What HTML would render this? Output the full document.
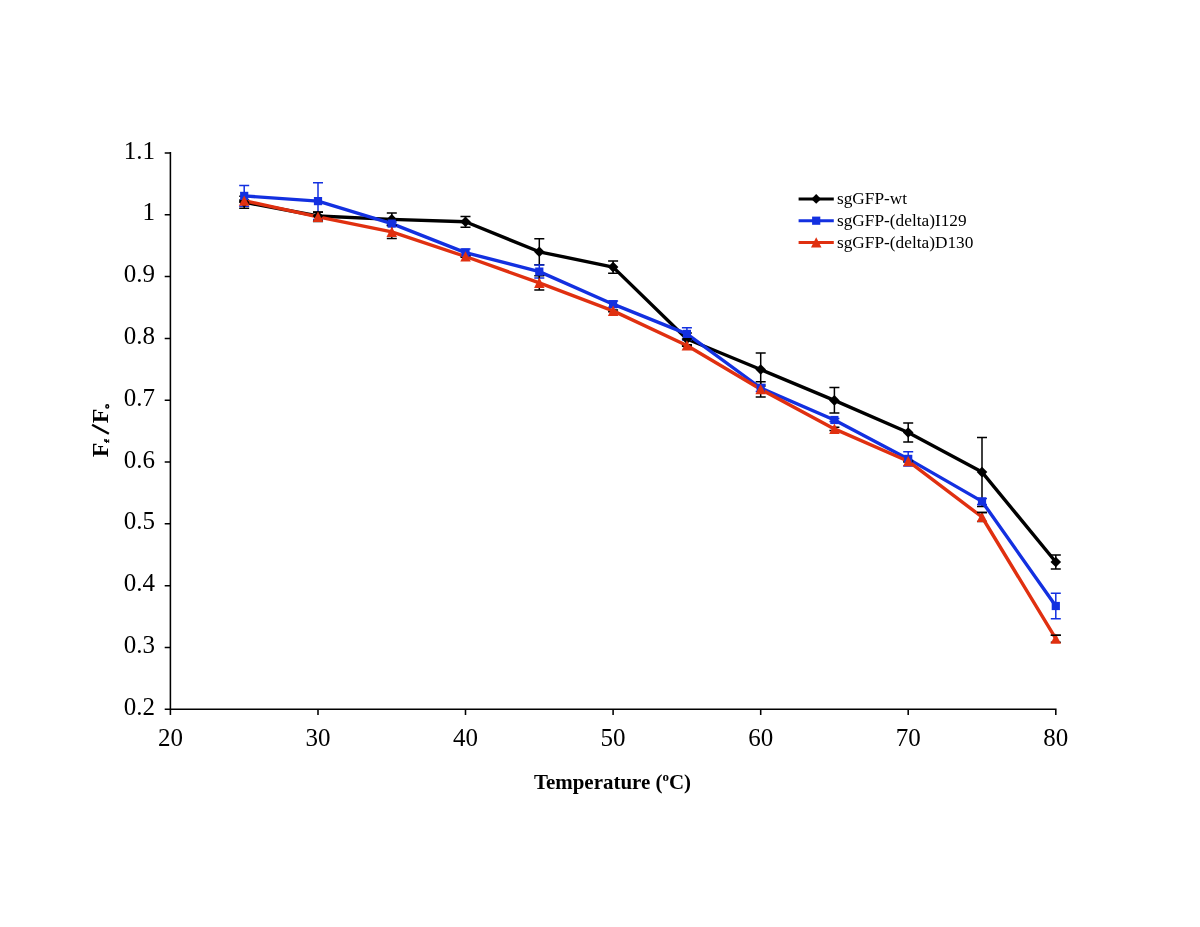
<!DOCTYPE html>
<html><head><meta charset="utf-8"><title>chart</title>
<style>
html,body{margin:0;padding:0;background:#fff;}
body{width:1200px;height:927px;overflow:hidden;font-family:"Liberation Serif",serif;}
svg{display:block;will-change:transform}
text{font-family:"Liberation Serif",serif;fill:#000}
.tk{font-size:25px}
.lg{font-size:17.3px}
.xl{font-size:20.95px;font-weight:bold}
.deg{font-size:13px}
.yl text{font-size:24px;font-weight:bold}
.yl text.sub{font-size:6.5px}
.yl text.sub2{font-size:7.6px}
</style></head>
<body>
<svg width="1200" height="927" viewBox="0 0 1200 927">
<rect width="1200" height="927" fill="#fff"/>
<path d="M170.4 152.0V714.9M164.7 709.3H1056.6M164.7 709.3H170.4M164.7 647.5H170.4M164.7 585.7H170.4M164.7 523.8H170.4M164.7 462.0H170.4M164.7 400.2H170.4M164.7 338.4H170.4M164.7 276.5H170.4M164.7 214.7H170.4M164.7 152.9H170.4M170.4 709.3V714.9M318.0 709.3V714.9M465.5 709.3V714.9M613.1 709.3V714.9M760.7 709.3V714.9M908.2 709.3V714.9M1055.8 709.3V714.9" stroke="#000" stroke-width="1.55" fill="none"/>
<text x="155" y="714.9" text-anchor="end" class="tk">0.2</text>
<text x="155" y="653.1" text-anchor="end" class="tk">0.3</text>
<text x="155" y="591.3" text-anchor="end" class="tk">0.4</text>
<text x="155" y="529.4" text-anchor="end" class="tk">0.5</text>
<text x="155" y="467.6" text-anchor="end" class="tk">0.6</text>
<text x="155" y="405.8" text-anchor="end" class="tk">0.7</text>
<text x="155" y="344.0" text-anchor="end" class="tk">0.8</text>
<text x="155" y="282.1" text-anchor="end" class="tk">0.9</text>
<text x="155" y="220.3" text-anchor="end" class="tk">1</text>
<text x="155" y="158.5" text-anchor="end" class="tk">1.1</text>
<text x="170.4" y="745.5" text-anchor="middle" class="tk">20</text>
<text x="318.0" y="745.5" text-anchor="middle" class="tk">30</text>
<text x="465.5" y="745.5" text-anchor="middle" class="tk">40</text>
<text x="613.1" y="745.5" text-anchor="middle" class="tk">50</text>
<text x="760.7" y="745.5" text-anchor="middle" class="tk">60</text>
<text x="908.2" y="745.5" text-anchor="middle" class="tk">70</text>
<text x="1055.8" y="745.5" text-anchor="middle" class="tk">80</text>
<path d="M244.2 196.2V208.2M239.2 196.2h10M239.2 208.2h10M318.0 211.9V220.1M313.0 211.9h10M313.0 220.1h10M391.8 213.1V225.7M386.8 213.1h10M386.8 225.7h10M465.5 216.4V227.2M460.5 216.4h10M460.5 227.2h10M539.3 238.8V264.8M534.3 238.8h10M534.3 264.8h10M613.1 261.0V273.3M608.1 261.0h10M608.1 273.3h10M686.9 333.0V345.0M681.9 333.0h10M681.9 345.0h10M760.7 353.0V386.0M755.7 353.0h10M755.7 386.0h10M834.4 387.6V413.1M829.4 387.6h10M829.4 413.1h10M908.2 423.1V441.9M903.2 423.1h10M903.2 441.9h10M982.0 437.6V506.6M977.0 437.6h10M977.0 506.6h10M1055.8 554.9V569.1M1050.8 554.9h10M1050.8 569.1h10" stroke="#000" stroke-width="1.5" fill="none"/>
<polyline points="244.2,202.2 318.0,216.0 391.8,219.4 465.5,221.8 539.3,251.8 613.1,267.1 686.9,339.0 760.7,369.5 834.4,400.4 908.2,432.5 982.0,472.1 1055.8,562.0" fill="none" stroke="#000" stroke-width="3.4" stroke-linejoin="round"/>
<path d="M244.2 185.5V206.3M239.2 185.5h10M239.2 206.3h10M318.0 182.8V219.4M313.0 182.8h10M313.0 219.4h10M391.8 222.1V225.1M386.8 222.1h10M386.8 225.1h10M465.5 249.1V256.1M460.5 249.1h10M460.5 256.1h10M539.3 265.1V278.1M534.3 265.1h10M534.3 278.1h10M613.1 301.1V307.3M608.1 301.1h10M608.1 307.3h10M686.9 327.7V340.1M681.9 327.7h10M681.9 340.1h10M760.7 384.5V391.5M755.7 384.5h10M755.7 391.5h10M834.4 418.5V421.5M829.4 418.5h10M829.4 421.5h10M908.2 451.8V466.0M903.2 451.8h10M903.2 466.0h10M982.0 498.4V504.4M977.0 498.4h10M977.0 504.4h10M1055.8 593.3V618.7M1050.8 593.3h10M1050.8 618.7h10" stroke="#1330e0" stroke-width="1.5" fill="none"/>
<polyline points="244.2,195.9 318.0,201.1 391.8,223.6 465.5,252.6 539.3,271.6 613.1,304.2 686.9,333.9 760.7,388.0 834.4,420.0 908.2,458.9 982.0,501.4 1055.8,606.0" fill="none" stroke="#1330e0" stroke-width="3.4" stroke-linejoin="round"/>
<path d="M244.2 200.1V201.3M239.2 200.1h10M239.2 201.3h10M318.0 212.3V221.5M313.0 212.3h10M313.0 221.5h10M391.8 225.2V238.6M386.8 225.2h10M386.8 238.6h10M465.5 255.7V257.3M460.5 255.7h10M460.5 257.3h10M539.3 275.7V290.1M534.3 275.7h10M534.3 290.1h10M613.1 310.1V311.7M608.1 310.1h10M608.1 311.7h10M686.9 344.7V346.3M681.9 344.7h10M681.9 346.3h10M760.7 381.8V396.9M755.7 381.8h10M755.7 396.9h10M834.4 427.2V430.6M829.4 427.2h10M829.4 430.6h10M908.2 460.4V462.0M903.2 460.4h10M903.2 462.0h10M982.0 512.6V521.4M977.0 512.6h10M977.0 521.4h10M1055.8 635.2V642.2M1050.8 635.2h10M1050.8 642.2h10" stroke="#000" stroke-width="1.5" fill="none"/>
<polyline points="244.2,200.7 318.0,216.9 391.8,231.9 465.5,256.5 539.3,282.9 613.1,310.9 686.9,345.5 760.7,389.3 834.4,428.9 908.2,461.2 982.0,517.0 1055.8,638.7" fill="none" stroke="#e03010" stroke-width="3.4" stroke-linejoin="round"/>
<path d="M244.2 196.9L249.5 202.2L244.2 207.5L238.9 202.2Z" fill="#000"/>
<path d="M318.0 210.7L323.3 216.0L318.0 221.3L312.7 216.0Z" fill="#000"/>
<path d="M391.8 214.1L397.1 219.4L391.8 224.7L386.4 219.4Z" fill="#000"/>
<path d="M465.5 216.5L470.8 221.8L465.5 227.1L460.2 221.8Z" fill="#000"/>
<path d="M539.3 246.5L544.6 251.8L539.3 257.1L534.0 251.8Z" fill="#000"/>
<path d="M613.1 261.8L618.4 267.1L613.1 272.4L607.8 267.1Z" fill="#000"/>
<path d="M686.9 333.7L692.2 339.0L686.9 344.3L681.6 339.0Z" fill="#000"/>
<path d="M760.7 364.2L766.0 369.5L760.7 374.8L755.4 369.5Z" fill="#000"/>
<path d="M834.4 395.1L839.7 400.4L834.4 405.7L829.1 400.4Z" fill="#000"/>
<path d="M908.2 427.2L913.5 432.5L908.2 437.8L902.9 432.5Z" fill="#000"/>
<path d="M982.0 466.8L987.3 472.1L982.0 477.4L976.7 472.1Z" fill="#000"/>
<path d="M1055.8 556.7L1061.1 562.0L1055.8 567.3L1050.5 562.0Z" fill="#000"/>
<rect x="240.1" y="191.8" width="8.2" height="8.2" fill="#1330e0"/>
<rect x="313.9" y="197.0" width="8.2" height="8.2" fill="#1330e0"/>
<rect x="387.6" y="219.5" width="8.2" height="8.2" fill="#1330e0"/>
<rect x="461.4" y="248.5" width="8.2" height="8.2" fill="#1330e0"/>
<rect x="535.2" y="267.5" width="8.2" height="8.2" fill="#1330e0"/>
<rect x="609.0" y="300.1" width="8.2" height="8.2" fill="#1330e0"/>
<rect x="682.8" y="329.8" width="8.2" height="8.2" fill="#1330e0"/>
<rect x="756.6" y="383.9" width="8.2" height="8.2" fill="#1330e0"/>
<rect x="830.3" y="415.9" width="8.2" height="8.2" fill="#1330e0"/>
<rect x="904.1" y="454.8" width="8.2" height="8.2" fill="#1330e0"/>
<rect x="977.9" y="497.3" width="8.2" height="8.2" fill="#1330e0"/>
<rect x="1051.7" y="601.9" width="8.2" height="8.2" fill="#1330e0"/>
<path d="M244.2 195.4L249.4 205.7L238.9 205.7Z" fill="#e03010"/>
<path d="M318.0 211.6L323.2 221.9L312.7 221.9Z" fill="#e03010"/>
<path d="M391.8 226.6L397.0 236.9L386.5 236.9Z" fill="#e03010"/>
<path d="M465.5 251.2L470.8 261.5L460.3 261.5Z" fill="#e03010"/>
<path d="M539.3 277.6L544.6 287.9L534.1 287.9Z" fill="#e03010"/>
<path d="M613.1 305.6L618.4 315.9L607.9 315.9Z" fill="#e03010"/>
<path d="M686.9 340.2L692.1 350.5L681.6 350.5Z" fill="#e03010"/>
<path d="M760.7 384.0L765.9 394.3L755.4 394.3Z" fill="#e03010"/>
<path d="M834.4 423.6L839.7 433.9L829.2 433.9Z" fill="#e03010"/>
<path d="M908.2 455.9L913.5 466.2L903.0 466.2Z" fill="#e03010"/>
<path d="M982.0 511.7L987.3 522.0L976.8 522.0Z" fill="#e03010"/>
<path d="M1055.8 633.4L1061.0 643.7L1050.5 643.7Z" fill="#e03010"/>
<path d="M977.0 512.6h10M1050.8 635.2h10" stroke="#000" stroke-width="1.5" fill="none"/>
<path d="M798.6 198.9H833.8" stroke="#000" stroke-width="3.0"/>
<path d="M816.2 194.0L821.1 198.9L816.2 203.8L811.3 198.9Z" fill="#000"/>
<text x="837" y="204.1" class="lg">sgGFP-wt</text>
<path d="M798.6 220.7H833.8" stroke="#1330e0" stroke-width="3.0"/>
<rect x="812.1" y="216.6" width="8.2" height="8.2" fill="#1330e0"/>
<text x="837" y="225.9" class="lg">sgGFP-(delta)I129</text>
<path d="M798.6 242.5H833.8" stroke="#e03010" stroke-width="3.0"/>
<path d="M816.2 237.2L821.5 247.5L811.0 247.5Z" fill="#e03010"/>
<text x="837" y="247.7" class="lg">sgGFP-(delta)D130</text>
<text x="612.5" y="789" text-anchor="middle" class="xl">Temperature (<tspan class="deg" dy="-7.9">o</tspan><tspan dy="7.9">C)</tspan></text>
<g transform="translate(108.3 457.3) rotate(-90)" class="yl"><text x="0" y="0">F</text><path d="M16.1 0.4V-2.7Q16.1 -3.9 18.4 -3.2" stroke="#000" stroke-width="1.6" fill="none"/><path d="M14.3 -1.8H18.1M14.5 0.4H17.9" stroke="#000" stroke-width="1.0" fill="none"/><path d="M23.6 0.6L32.6 -16.2" stroke="#000" stroke-width="2.4" fill="none"/><text x="34" y="0">F</text><ellipse cx="50.85" cy="-1.05" rx="1.6" ry="1.35" stroke="#000" stroke-width="1.5" fill="none"/></g>
</svg>
</body></html>
